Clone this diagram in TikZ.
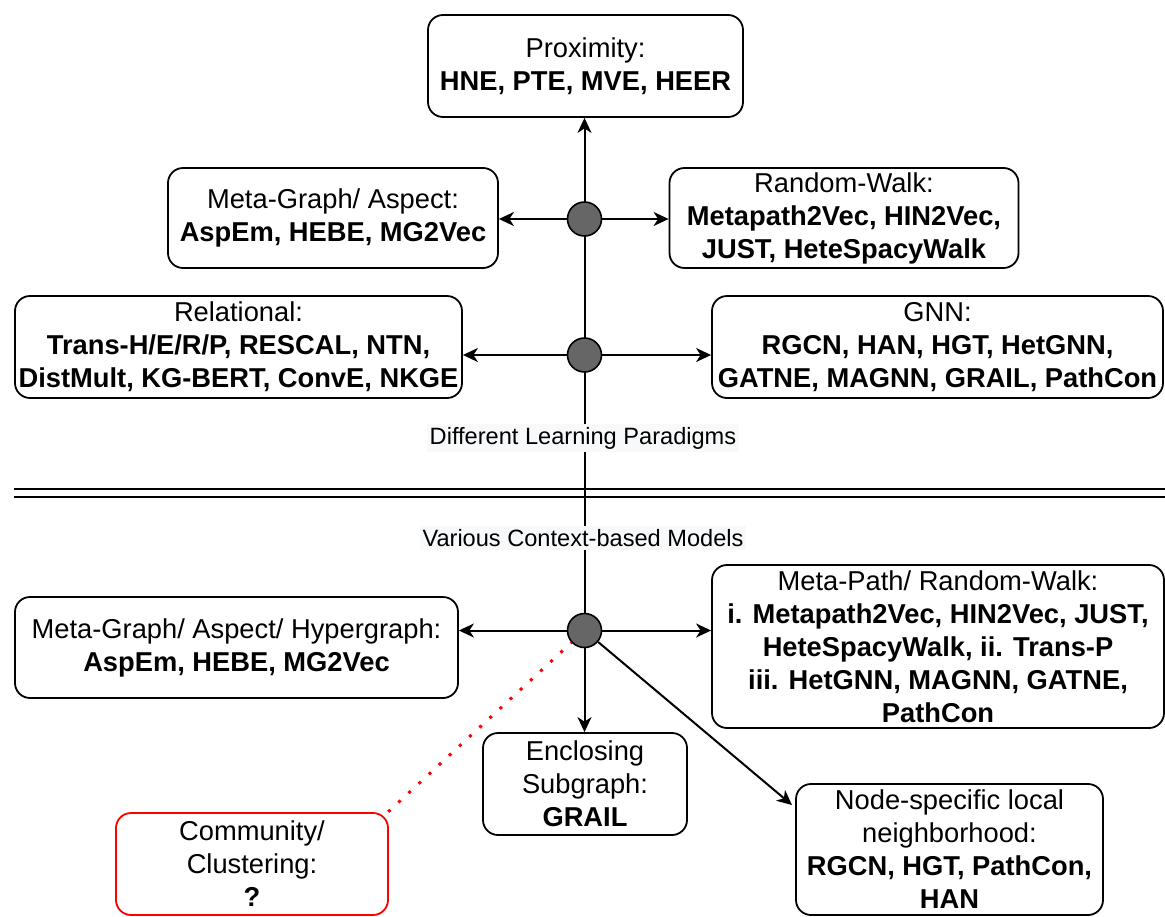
\documentclass[tikz,border=0pt]{standalone}
\usepackage{fontspec}
\setmainfont{Liberation Sans}
\usetikzlibrary{arrows.meta}
\definecolor{hubgray}{HTML}{666666}
\definecolor{labbg}{HTML}{F8F9FA}
\pgfdeclarelayer{back}
\pgfdeclarelayer{bg}
\pgfsetlayers{back,bg,main}
\tikzset{
  box/.style={draw, line width=1.8pt, rounded corners=15pt, align=center, inner sep=0pt,
    font=\fontsize{27.3}{33}\selectfont},
  hub/.style={circle, draw, fill=hubgray, line width=1.6pt, minimum size=34pt, inner sep=0pt},
  conn/.style={line width=2pt, -{Stealth[length=15pt,width=14pt,inset=4.5pt]}},
  lab/.style={fill=labbg, font=\fontsize{23.6}{28}\selectfont, inner xsep=3pt, inner ysep=3pt},
  sepline/.style={line width=2pt},
  redlink/.style={red, line width=3pt, dash pattern=on 3pt off 10.8pt, dash phase=2pt},
}
\begin{document}
\begin{tikzpicture}[x=1pt,y=-1pt]
\begin{pgfonlayer}{back}
\fill[white] (0,0) rectangle (1165,916);
\end{pgfonlayer}
\useasboundingbox (0,0) rectangle (1165,916);

% boxes
\node[box, minimum width=315pt, minimum height=102pt] (prox) at (585.5,66) {Proximity:\\\textbf{HNE, PTE, MVE, HEER}};
\node[box, minimum width=330pt, minimum height=100pt] (mg1) at (333,218) {Meta-Graph/ Aspect:\\\textbf{AspEm, HEBE, MG2Vec}};
\node[box, minimum width=349pt, minimum height=100pt] (rw1) at (844,218) {Random-Walk:\\\textbf{Metapath2Vec, HIN2Vec,}\\\textbf{JUST, HeteSpacyWalk}};
\node[box, minimum width=447pt, minimum height=102pt] (rel) at (238.5,347) {Relational:\\\textbf{Trans-H/E/R/P, RESCAL, NTN,}\\\textbf{DistMult, KG-BERT, ConvE, NKGE}};
\node[box, minimum width=451pt, minimum height=102pt] (gnn) at (937.5,347) {GNN:\\\textbf{RGCN, HAN, HGT, HetGNN,}\\\textbf{GATNE, MAGNN, GRAIL, PathCon}};
\node[box, minimum width=443pt, minimum height=101pt] (mg2) at (236.5,647.5) {Meta-Graph/ Aspect/ Hypergraph:\\\textbf{AspEm, HEBE, MG2Vec}};
\node[box, minimum width=452pt, minimum height=163pt] (mp) at (938,646.5) {Meta-Path/ Random-Walk:\\\textbf{i. Metapath2Vec, HIN2Vec, JUST,}\\\textbf{HeteSpacyWalk, ii. Trans-P}\\\textbf{iii. HetGNN, MAGNN, GATNE,}\\\textbf{PathCon}};
\node[box, minimum width=204pt, minimum height=102pt] (enc) at (585,784) {Enclosing\\Subgraph:\\\textbf{GRAIL}};
\node[box, minimum width=307pt, minimum height=131pt] (ns) at (949.5,849.5) {Node-specific local\\neighborhood:\\\textbf{RGCN, HGT, PathCon,}\\\textbf{HAN}};
\node[box, draw=red, minimum width=272pt, minimum height=102pt] (comm) at (252,864) {Community/\\Clustering:\\\textbf{?}};

% hubs
\node[hub] (c1) at (584.5,219) {};
\node[hub] (c2) at (584.5,355) {};
\node[hub] (c3) at (584.5,630.5) {};

% labels
\node[lab] (l1) at (583,438) {Different Learning Paradigms};
\node[lab] (l2) at (583,538) {Various Context-based Models};

\coordinate (nsend) at (792,805);
\coordinate (commend) at (388,812);

\begin{pgfonlayer}{bg}
  \draw[conn] (c3) -- (c3 |- prox.south);
  \draw[sepline] (14,489) -- (1165,489);
  \draw[sepline] (14,497) -- (1165,497);
\end{pgfonlayer}

\draw[conn] (c1) -- (c1 -| mg1.east);
\draw[conn] (c1) -- (c1 -| rw1.west);
\draw[conn] (c2) -- (c2 -| rel.east);
\draw[conn] (c2) -- (c2 -| gnn.west);
\draw[conn] (c3) -- (c3 -| mg2.east);
\draw[conn] (c3) -- (c3 -| mp.west);
\draw[conn] (c3) -- (c3 |- enc.north);
\draw[conn] (c3) -- (nsend);
\draw[redlink] (c3) -- (commend);
\end{tikzpicture}
\end{document}
